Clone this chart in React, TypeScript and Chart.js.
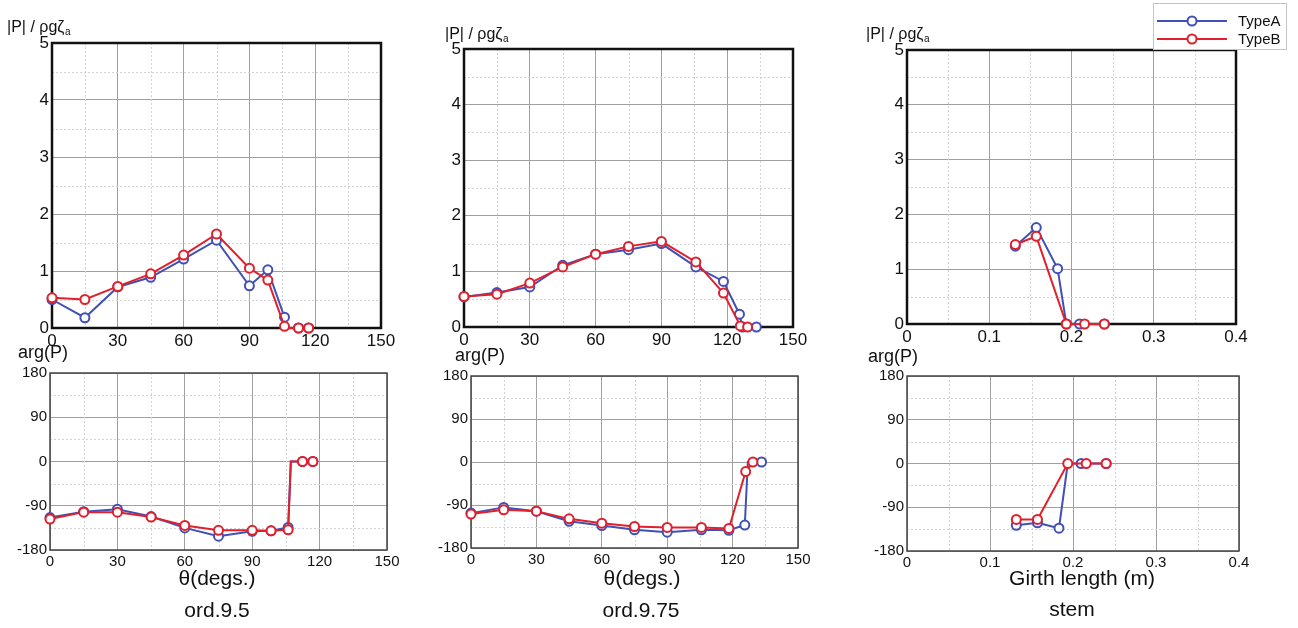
import React, { useEffect, useRef } from "react";
import { Chart, registerables } from "chart.js";
Chart.register(...registerables);

const PAGE_W = 1298;
const PAGE_H = 628;
const FONT = "'Liberation Sans', Arial, Helvetica, sans-serif";
const BLUE = "#4150b4";
const RED = "#e0202c";
const SERIES_NAMES = ["TypeA", "TypeB"];

// ---------- ord.9.5 ----------
const ord95AngleA = [0, 15, 30, 45, 60, 75, 90, 98.4, 106, 107.2, 112.4, 117];
const ord95MagA = [0.5, 0.18, 0.72, 0.89, 1.21, 1.54, 0.74, 1.02, 0.19, 0, 0, 0];
const ord95PhaseA = [-114, -102, -97, -112, -135, -152, -142, -141, -134, 0, 0, 0];
const ord95AngleB = [0, 15, 30, 45, 60, 75, 90, 98.4, 106, 107.2, 112.4, 117];
const ord95MagB = [0.53, 0.5, 0.73, 0.95, 1.28, 1.65, 1.05, 0.84, 0.03, 0, 0, 0];
const ord95PhaseB = [-117, -103, -103, -113, -130, -140, -140, -141, -139, 0, 0, 0];

// ---------- ord.9.75 ----------
const ord975AngleA = [0, 15, 30, 45, 60, 75, 90, 105.7, 118.3, 125.6, 127, 133.3];
const ord975MagA = [0.54, 0.62, 0.72, 1.11, 1.31, 1.39, 1.5, 1.08, 0.82, 0.23, 0, 0];
const ord975PhaseA = [-107, -95, -103, -124, -133, -142, -147, -142, -143, -132, 0, 0];
const ord975AngleB = [0, 15, 30, 45, 60, 75, 90, 105.7, 118.3, 126, 129.3];
const ord975MagB = [0.55, 0.59, 0.79, 1.08, 1.31, 1.45, 1.54, 1.17, 0.61, 0.02, 0];
const ord975PhaseB = [-109, -100, -103, -119, -128, -135, -137, -137, -139, -20, 0];

// ---------- stem ----------
const stemGirthA = [0.1317, 0.1572, 0.1831, 0.1937, 0.2098, 0.24];
const stemMagA = [1.42, 1.76, 1.01, 0, 0, 0];
const stemPhaseA = [-127, -122, -133, 0, 0, 0];
const stemGirthB = [0.1317, 0.1572, 0.1937, 0.2159, 0.2399];
const stemMagB = [1.45, 1.6, 0, 0, 0];
const stemPhaseB = [-115, -115, 0, 0, 0];

// tick settings
const thetaTicks = { min: 0, max: 150, step: 30 };
const girthTicks = { min: 0, max: 0.4, step: 0.1 };
const magTicks = { min: 0, max: 5, step: 1 };
const phaseTicks = { min: -180, max: 180, step: 90 };

type TextItem = { text: string; sub?: string; x: number; y: number; size: number; align: CanvasTextAlign };
type Series = { x: number[]; y: number[]; hidden: number[] };
type PanelCfg = {
  area: { l: number; t: number; r: number; b: number };
  xt: { min: number; max: number; step: number };
  yt: { min: number; max: number; step: number };
  series: Series[];
  tickSize: number;
  frameWidth: number;
  frameColor: string;
  texts: TextItem[];
  legend?: boolean;
};

const Y_AXIS_W = 48;
const X_AXIS_H = 24;

const panels: PanelCfg[] = [
  {
    area: { l: 52, t: 43, r: 381, b: 328 },
    xt: thetaTicks, yt: magTicks,
    series: [
      { x: ord95AngleA, y: ord95MagA, hidden: [9] },
      { x: ord95AngleB, y: ord95MagB, hidden: [9] },
    ],
    tickSize: 17, frameWidth: 2.5, frameColor: "#111",
    texts: [{ text: "|P| / ρgζ", sub: "a", x: 7, y: 32, size: 16, align: "left" }],
  },
  {
    area: { l: 464, t: 49, r: 793, b: 327 },
    xt: thetaTicks, yt: magTicks,
    series: [
      { x: ord975AngleA, y: ord975MagA, hidden: [] },
      { x: ord975AngleB, y: ord975MagB, hidden: [] },
    ],
    tickSize: 17, frameWidth: 2.5, frameColor: "#111",
    texts: [{ text: "|P| / ρgζ", sub: "a", x: 445, y: 39, size: 16, align: "left" }],
  },
  {
    area: { l: 907, t: 50, r: 1236, b: 324 },
    xt: girthTicks, yt: magTicks,
    series: [
      { x: stemGirthA, y: stemMagA, hidden: [] },
      { x: stemGirthB, y: stemMagB, hidden: [] },
    ],
    tickSize: 17, frameWidth: 2.5, frameColor: "#111",
    texts: [{ text: "|P| / ρgζ", sub: "a", x: 866, y: 39, size: 16, align: "left" }],
    legend: true,
  },
  {
    area: { l: 50, t: 373, r: 387, b: 550 },
    xt: thetaTicks, yt: phaseTicks,
    series: [
      { x: ord95AngleA, y: ord95PhaseA, hidden: [9] },
      { x: ord95AngleB, y: ord95PhaseB, hidden: [9] },
    ],
    tickSize: 15, frameWidth: 1.5, frameColor: "#444",
    texts: [
      { text: "arg(P)", x: 18, y: 358, size: 18, align: "left" },
      { text: "θ(degs.)", x: 217, y: 585, size: 21, align: "center" },
      { text: "ord.9.5", x: 217, y: 617, size: 21, align: "center" },
    ],
  },
  {
    area: { l: 471, t: 376, r: 798, b: 548 },
    xt: thetaTicks, yt: phaseTicks,
    series: [
      { x: ord975AngleA, y: ord975PhaseA, hidden: [10] },
      { x: ord975AngleB, y: ord975PhaseB, hidden: [] },
    ],
    tickSize: 15, frameWidth: 1.5, frameColor: "#444",
    texts: [
      { text: "arg(P)", x: 455, y: 361, size: 18, align: "left" },
      { text: "θ(degs.)", x: 642, y: 585, size: 21, align: "center" },
      { text: "ord.9.75", x: 641, y: 617, size: 21, align: "center" },
    ],
  },
  {
    area: { l: 907, t: 376, r: 1239, b: 551 },
    xt: girthTicks, yt: phaseTicks,
    series: [
      { x: stemGirthA, y: stemPhaseA, hidden: [3] },
      { x: stemGirthB, y: stemPhaseB, hidden: [] },
    ],
    tickSize: 15, frameWidth: 1.5, frameColor: "#444",
    texts: [
      { text: "arg(P)", x: 868, y: 362, size: 18, align: "left" },
      { text: "Girth length (m)", x: 1082, y: 585, size: 21, align: "center" },
      { text: "stem", x: 1072, y: 616, size: 21, align: "center" },
    ],
  },
];

const COLORS = [BLUE, RED];

function decorPlugin(cfg: PanelCfg) {
  return {
    id: "decor",
    beforeDatasetsDraw(chart: any) {
      const ctx = chart.ctx as CanvasRenderingContext2D;
      const { left, right, top, bottom } = chart.chartArea;
      const xs = chart.scales.x;
      const ys = chart.scales.y;
      ctx.save();
      ctx.strokeStyle = "#d2d2d2";
      ctx.lineWidth = 1;
      ctx.setLineDash([2, 2]);
      for (let v = cfg.xt.min + cfg.xt.step / 2; v < cfg.xt.max; v += cfg.xt.step) {
        const px = Math.round(xs.getPixelForValue(v)) + 0.5;
        ctx.beginPath();
        ctx.moveTo(px, top);
        ctx.lineTo(px, bottom);
        ctx.stroke();
      }
      for (let v = cfg.yt.min + cfg.yt.step / 2; v < cfg.yt.max; v += cfg.yt.step) {
        const py = Math.round(ys.getPixelForValue(v)) + 0.5;
        ctx.beginPath();
        ctx.moveTo(left, py);
        ctx.lineTo(right, py);
        ctx.stroke();
      }
      ctx.setLineDash([]);
      ctx.strokeStyle = cfg.frameColor;
      ctx.lineWidth = cfg.frameWidth;
      ctx.strokeRect(left, top, right - left, bottom - top);
      ctx.restore();
    },
    afterDraw(chart: any) {
      const ctx = chart.ctx as CanvasRenderingContext2D;
      ctx.save();
      ctx.fillStyle = "#111";
      ctx.textBaseline = "alphabetic";
      for (const t of cfg.texts) {
        ctx.font = `${t.size}px ${FONT}`;
        ctx.textAlign = t.align;
        ctx.fillText(t.text, t.x, t.y);
        if (t.sub) {
          const w = ctx.measureText(t.text).width;
          ctx.font = `${Math.round(t.size * 0.6)}px ${FONT}`;
          ctx.textAlign = "left";
          ctx.fillText(t.sub, t.x + w + 0.5, t.y + 3);
        }
      }
      if (cfg.legend) {
        const bx = 1153, by = 3, bw = 133, bh = 46;
        ctx.fillStyle = "#fff";
        ctx.fillRect(bx, by, bw, bh);
        ctx.strokeStyle = "#c4c4c4";
        ctx.lineWidth = 1;
        ctx.strokeRect(bx + 0.5, by + 0.5, bw, bh);
        chart.data.datasets.forEach((ds: any, i: number) => {
          const y = 21 + i * 18;
          ctx.strokeStyle = ds.borderColor;
          ctx.lineWidth = 2;
          ctx.beginPath();
          ctx.moveTo(1157, y);
          ctx.lineTo(1227, y);
          ctx.stroke();
          ctx.beginPath();
          ctx.arc(1192, y, 4.5, 0, Math.PI * 2);
          ctx.fillStyle = "#fff";
          ctx.fill();
          ctx.stroke();
          ctx.fillStyle = "#111";
          ctx.font = `15px ${FONT}`;
          ctx.textAlign = "left";
          ctx.textBaseline = "middle";
          ctx.fillText(ds.label, 1238, y + 1);
        });
      }
      ctx.restore();
    },
  };
}

function buildChart(canvas: HTMLCanvasElement, cfg: PanelCfg) {
  const tickFont = { family: FONT, size: cfg.tickSize };
  return new Chart(canvas, {
    type: "line",
    data: {
      datasets: cfg.series.map((s, i) => ({
        label: SERIES_NAMES[i],
        data: s.x.map((x, j) => ({ x, y: s.y[j] })),
        borderColor: COLORS[i],
        backgroundColor: "#fff",
        pointBackgroundColor: "#fff",
        pointBorderColor: COLORS[i],
        pointBorderWidth: 2,
        pointRadius: (c: any) => (s.hidden.includes(c.dataIndex) ? 0 : 4.5),
        borderWidth: 2,
        tension: 0,
        fill: false,
        clip: false,
        order: i === 0 ? 2 : 1,
      })),
    },
    options: {
      responsive: false,
      animation: false,
      events: [],
      layout: {
        padding: {
          left: cfg.area.l - Y_AXIS_W,
          top: cfg.area.t,
          right: PAGE_W - cfg.area.r,
          bottom: PAGE_H - cfg.area.b - X_AXIS_H,
        },
      },
      plugins: { legend: { display: false }, tooltip: { enabled: false } },
      scales: {
        x: {
          type: "linear",
          min: cfg.xt.min,
          max: cfg.xt.max,
          afterFit: (s: any) => { s.height = X_AXIS_H; },
          ticks: { stepSize: cfg.xt.step, autoSkip: false, maxRotation: 0, font: tickFont, color: "#111", padding: 3 },
          grid: { color: "#a0a0a0", lineWidth: 1, drawTicks: false },
          border: { display: false },
        },
        y: {
          type: "linear",
          min: cfg.yt.min,
          max: cfg.yt.max,
          afterFit: (s: any) => { s.width = Y_AXIS_W; },
          ticks: { stepSize: cfg.yt.step, autoSkip: false, font: tickFont, color: "#111", padding: 3 },
          grid: { color: "#a0a0a0", lineWidth: 1, drawTicks: false },
          border: { display: false },
        },
      },
    } as any,
    plugins: [decorPlugin(cfg)],
  });
}

function PanelCanvas({ cfg }: { cfg: PanelCfg }) {
  const ref = useRef<HTMLCanvasElement>(null);
  useEffect(() => {
    if (!ref.current) return;
    const chart = buildChart(ref.current, cfg);
    return () => chart.destroy();
  }, [cfg]);
  return (
    <canvas
      ref={ref}
      width={PAGE_W}
      height={PAGE_H}
      style={{ position: "absolute", left: 0, top: 0, width: PAGE_W, height: PAGE_H, display: "block" }}
    />
  );
}

export default function App() {
  return (
    <div style={{ position: "absolute", left: 0, top: 0, width: PAGE_W, height: PAGE_H, overflow: "hidden", background: "#fff" }}>
      {panels.map((p, i) => (
        <PanelCanvas key={i} cfg={p} />
      ))}
    </div>
  );
}
